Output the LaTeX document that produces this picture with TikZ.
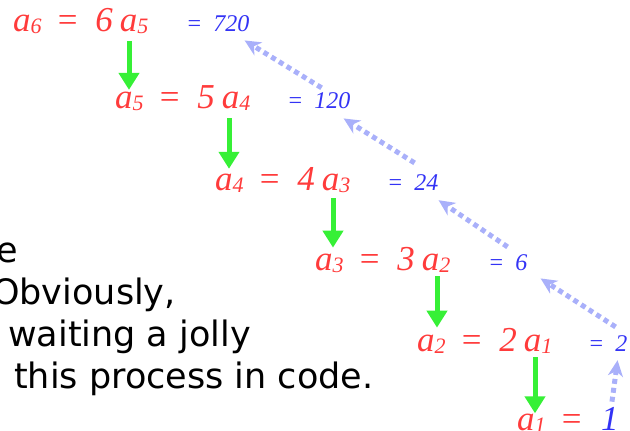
\documentclass[tikz,border=0pt]{standalone}
\usepackage{fontspec}
\setmainfont{Liberation Serif}
\newfontfamily\slidefont{DejaVu Sans}
\usetikzlibrary{arrows.meta,positioning,calc}
\definecolor{recRed}{HTML}{FF3B3B}
\definecolor{recBlue}{HTML}{3333F5}
\definecolor{recGreen}{HTML}{36F036}
\definecolor{recBack}{HTML}{A9B0FA}
% subscript index and one line of the recursion
\newcommand{\ix}[1]{\raisebox{-2pt}{\fontsize{22}{22}\selectfont #1}}
\newcommand{\recline}[3]{a\ix{#1}\hspace{14pt}=\hspace{16pt}#2\hspace{7pt}a\ix{#3}}
\tikzset{
    recRow/.style={anchor=base west, inner sep=0pt, text=recRed,
        font=\fontsize{35}{35}\selectfont\itshape},
    recVal/.style={anchor=base west, inner sep=0pt, text=recBlue,
        font=\fontsize{24}{24}\selectfont\itshape},
    slideLine/.style={inner sep=0pt, font=\slidefont\fontsize{35}{42}\selectfont},
    goDown/.style={-{Triangle[length=17pt,width=20pt]}, line width=5pt, draw=recGreen},
    goBack/.style={-{Stealth[length=16pt,width=15pt,inset=5pt]}, line width=5pt,
        draw=recBack, dash pattern=on 5pt off 4pt}
}
\begin{document}
\begin{tikzpicture}[x=1pt, y=-1pt]
\useasboundingbox (0,0) rectangle (630,431);

% slide text, cut at the left
\node[slideLine, anchor=base east] (txt1) at (18,262) {e};
\node[slideLine, anchor=base east] (txt2) at (176,304) {Obviously,};
\node[slideLine, anchor=base west] (txt3) at (8,346) {waiting a jolly};
\node[slideLine, anchor=base west] (txt4) at (14,388) {this process in code.};

% recursion, one row per step
\node[recRow] (row6) at (13,31) {\recline{6}{6}{5}};
\node[recRow] (row5) at (115,108) {\recline{5}{5}{4}};
\node[recRow] (row4) at (215,190) {\recline{4}{4}{3}};
\node[recRow] (row3) at (315,270) {\recline{3}{3}{2}};
\node[recRow] (row2) at (417,351) {\recline{2}{2}{1}};
\node[recRow] (row1) at (517,430) {a\ix{1}\hspace{14pt}=};

% values coming back
\node[recVal] (val6) at (186,31) {=\hspace{11pt}720};
\node[recVal] (val5) at (287,108) {=\hspace{11pt}120};
\node[recVal] (val4) at (387,190) {=\hspace{11pt}24};
\node[recVal] (val3) at (488,270) {=\hspace{11pt}6};
\node[recVal] (val2) at (588,351) {=\hspace{11pt}2};
\node[recRow, text=recBlue] (val1) at (601,430) {1};

% going down
\coordinate (g5) at ([xshift=14pt]row5.north west);
\coordinate (g4) at ([xshift=14pt]row4.north west);
\coordinate (g3) at ([xshift=18pt]row3.north west);
\coordinate (g2) at ([xshift=20pt]row2.north west);
\coordinate (g1) at ([xshift=18pt]row1.north west);
\draw[goDown, shorten <=8pt, shorten >=-5pt] (g5 |- row6.south) -- (g5);
\draw[goDown, shorten <=8pt, shorten >=-2pt] (g4 |- row5.south) -- (g4);
\draw[goDown, shorten <=6pt, shorten >=-1pt] (g3 |- row4.south) -- (g3);
\draw[goDown, shorten <=4pt] (g2 |- row3.south) -- (g2);
\draw[goDown, shorten <=4pt] (g1 |- row2.south) -- (g1);

% coming back up
\draw[goBack] ([shift={(2pt,5pt)}]val1.north) -- ([shift={(-10pt,-9pt)}]val2.south east);
\draw[goBack] ([shift={(-12pt,8pt)}]val2.north east) -- ([shift={(13pt,-8pt)}]val3.south east);
\draw[goBack] ([shift={(-20pt,7pt)}]val3.north east) -- ([shift={(0pt,-10pt)}]val4.south east);
\draw[goBack] ([shift={(-24pt,11pt)}]val4.north east) -- ([shift={(-7pt,-10pt)}]val5.south east);
\draw[goBack] ([shift={(-29pt,4pt)}]val5.north east) -- ([shift={(-5pt,-9pt)}]val6.south east);
\end{tikzpicture}
\end{document}
